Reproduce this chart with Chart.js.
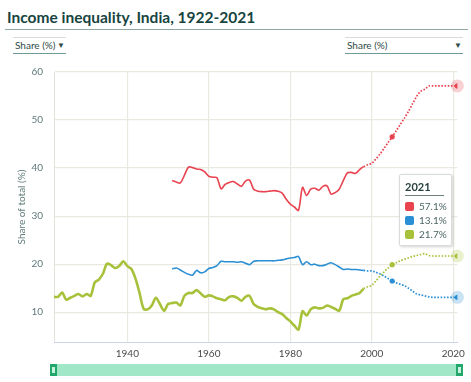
<!DOCTYPE html>
<html>
<head>
<meta charset="utf-8">
<script src="https://cdn.jsdelivr.net/npm/chart.js@4.4.1/dist/chart.umd.min.js"></script>
<style>
  body { margin: 0; width: 471px; height: 382px; background: #fff; font-family: Lato, "Open Sans", sans-serif; position: relative; overflow: hidden; }
  .title { position: absolute; left: 7px; top: 8px; font-size: 15.5px; font-weight: bold; color: #17443f; }
  .title-rule { position: absolute; left: 5px; top: 29px; width: 463px; height: 1px; background: #8fa8a5; }
  .dropdown { position: absolute; top: 37px; height: 15px; border-top: 1px solid #d6dcdb; border-bottom: 1px solid #6f9b97; font-size: 10px; color: #2f4a48; line-height: 15px; }
  .dropdown .caret { position: absolute; right: 1px; top: 0; font-size: 8px; }
  #wrap { position: absolute; left: 0; top: 55px; width: 471px; height: 305px; }
  .slider { position: absolute; left: 50px; top: 364px; width: 413px; height: 12px; background: #9fe7c6; }
  .handle { position: absolute; top: 0; width: 7px; height: 12px; background: #22a86c; }
  .handle i { position: absolute; left: 2px; top: 3px; width: 3px; height: 6px; background: #c9f2de; }
  .box { position: absolute; left: 399px; top: 174px; width: 51px; height: 70px; background: #fff; border: 1px solid #d8dcdc; box-shadow: 1px 1px 3px rgba(0,0,0,0.18); border-radius: 2px; }
  .box .yr { position: absolute; left: 5px; top: 5px; width: 39px; font-size: 11px; font-weight: bold; color: #26403e; border-bottom: 1px solid #6d7f7e; padding-bottom: 2px; line-height: 13px; }
  .box .row { position: absolute; left: 5px; font-size: 10px; color: #4d6766; line-height: 10px; }
  .box .sw { display: inline-block; width: 9px; height: 9px; border-radius: 2px; vertical-align: -1px; margin-right: 5px; }
</style>
</head>
<body>
<div class="title">Income inequality, India, 1922-2021</div>
<div class="title-rule"></div>
<div class="dropdown" style="left:13px;width:51px;padding-left:2px;">Share (%)<span class="caret">&#9660;</span></div>
<div class="dropdown" style="left:345px;width:116px;padding-left:2px;">Share (%)<span class="caret">&#9660;</span></div>
<div id="wrap"><canvas id="chart"></canvas></div>
<div class="slider">
  <div class="handle" style="left:0"><i></i></div>
  <div class="handle" style="right:0"><i></i></div>
</div>
<div class="box" id="box"></div>

<script>
// Years on the x axis
const YEARS = [
  1922, 1923, 1924, 1925, 1926, 1927, 1928, 1929, 1930, 1931,
  1932, 1933, 1934, 1935, 1936, 1937, 1938, 1939, 1940, 1941,
  1942, 1943, 1944, 1945, 1946, 1947, 1948, 1949, 1950, 1951,
  1952, 1953, 1954, 1955, 1956, 1957, 1958, 1959, 1960, 1961,
  1962, 1963, 1964, 1965, 1966, 1967, 1968, 1969, 1970, 1971,
  1972, 1973, 1974, 1975, 1976, 1977, 1978, 1979, 1980, 1981,
  1982, 1983, 1984, 1985, 1986, 1987, 1988, 1989, 1990, 1991,
  1992, 1993, 1994, 1995, 1996, 1997, 1998, 1999, 2000, 2001,
  2002, 2003, 2004, 2005, 2006, 2007, 2008, 2009, 2010, 2011,
  2012, 2013, 2014, 2015, 2016, 2017, 2018, 2019, 2020, 2021
];

// Top 10% share (red), starts 1951
const TOP10 = [
  null, null, null, null, null, null, null, null, null, null,
  null, null, null, null, null, null, null, null, null, null,
  null, null, null, null, null, null, null, null, null, 37.4,
  37.1, 36.9, 38.5, 40.2, 40.1, 39.8, 39.7, 39.2, 38.3, 38.1,
  38.0, 35.7, 36.6, 37.0, 37.2, 36.7, 36.2, 37.3, 37.5, 35.6,
  35.2, 35.1, 35.1, 35.2, 35.3, 35.2, 34.8, 33.5, 32.5, 31.9,
  31.2, 36.0, 34.3, 35.6, 35.8, 35.4, 36.2, 36.3, 34.6, 34.9,
  35.6, 37.4, 39.0, 39.1, 38.9, 39.7, 40.3, 40.7, 41.0, 41.9,
  42.9, 44.1, 45.3, 46.5, 47.8, 49.1, 50.4, 51.8, 53.4, 54.9,
  56.0, 56.4, 57.1, 57.1, 57.1, 57.1, 57.1, 57.1, 57.1, 57.1
];

// Bottom 50% share (blue), starts 1951
const BOTTOM50 = [
  null, null, null, null, null, null, null, null, null, null,
  null, null, null, null, null, null, null, null, null, null,
  null, null, null, null, null, null, null, null, null, 19.0,
  19.2, 18.8, 18.3, 17.9, 17.7, 18.7, 18.2, 18.4, 19.1, 19.3,
  19.7, 20.6, 20.5, 20.5, 20.5, 20.4, 20.5, 20.2, 19.9, 20.6,
  20.7, 20.7, 20.7, 20.7, 20.7, 20.8, 20.9, 21.1, 21.3, 21.4,
  21.6, 19.9, 20.5, 19.9, 20.0, 19.7, 19.7, 20.0, 20.3, 19.9,
  19.4, 18.9, 19.0, 18.9, 18.9, 18.8, 18.7, 18.6, 18.6, 18.3,
  18.0, 17.5, 17.0, 16.5, 16.1, 15.8, 15.5, 15.0, 14.4, 13.8,
  13.6, 13.4, 13.2, 13.1, 13.1, 13.1, 13.1, 13.1, 13.1, 13.1
];

// Top 1% share (green), from 1922
const TOP1 = [
  13.2, 13.2, 14.1, 12.6, 13.0, 13.4, 13.8, 13.3, 13.8, 13.4,
  16.2, 16.8, 18.0, 20.1, 19.8, 19.2, 19.6, 20.6, 19.6, 19.0,
  17.0, 14.0, 10.7, 10.6, 11.4, 13.0, 11.7, 10.3, 11.7, 11.9,
  12.0, 11.4, 13.4, 14.0, 14.0, 14.6, 13.9, 13.2, 13.5, 13.3,
  12.9, 12.7, 12.5, 13.2, 13.3, 13.0, 12.4, 13.2, 13.4, 11.7,
  11.1, 10.8, 10.6, 10.8, 10.6, 10.0, 9.6, 8.8, 8.1, 7.2,
  6.4, 10.2, 9.3, 10.6, 11.0, 10.8, 10.9, 11.4, 11.1, 10.7,
  10.3, 12.7, 12.9, 13.4, 13.7, 14.0, 14.9, 15.3, 15.6, 16.5,
  17.5, 18.4, 19.2, 19.9, 20.3, 20.7, 21.0, 21.3, 21.6, 21.8,
  22.0, 22.2, 21.8, 21.7, 21.7, 21.7, 21.7, 21.7, 21.7, 21.7
];

const Y_TICKS = [10, 20, 30, 40, 50, 60];
const X_TICKS = [1940, 1960, 1980, 2000, 2020];
const ESTIMATE_FROM = 1998;   // dotted after this year
const MARKED_YEARS = [2005, 2021];

const RED = "#e8434f", BLUE = "#2b8fd5", GREEN = "#a7c23a";

function series(values, color, width, order) {
  return {
    data: values,
    borderColor: color,
    backgroundColor: color,
    borderWidth: width,
    tension: 0.3,
    spanGaps: false,
    order,
    pointRadius: (ctx) => MARKED_YEARS.includes(YEARS[ctx.dataIndex]) ? 2.6 : 0,
    pointBorderWidth: 0,
    segment: {
      borderDash: (ctx) => ctx.p0.parsed.x >= ESTIMATE_FROM ? [1.6, 1.6] : undefined,
      borderWidth: (ctx) => ctx.p0.parsed.x >= ESTIMATE_FROM ? 1.7 : width,
    },
  };
}

function halo(values, color) {
  const last = values[values.length - 1];
  return {
    data: [{ x: YEARS[YEARS.length - 1], y: last }],
    showLine: false,
    pointRadius: 6.5,
    pointBorderWidth: 0,
    backgroundColor: color + "40",
    clip: false,
    order: 10,
  };
}

new Chart(document.getElementById("chart"), {
  type: "line",
  data: {
    labels: YEARS,
    datasets: [
      series(TOP10, RED, 1.6, 1),
      series(BOTTOM50, BLUE, 1.6, 2),
      series(TOP1, GREEN, 2.6, 3),
      halo(TOP10, RED),
      halo(BOTTOM50, BLUE),
      halo(TOP1, GREEN),
    ],
  },
  options: {
    responsive: true,
    maintainAspectRatio: false,
    animation: false,
    events: [],
    layout: { padding: { top: 12, right: 9, left: 0, bottom: 0 } },
    plugins: { legend: { display: false }, tooltip: { enabled: false } },
    scales: {
      x: {
        type: "linear",
        min: 1922,
        max: 2021,
        afterFit: (s) => { s.height = 18; },
        afterBuildTicks: (s) => { s.ticks = X_TICKS.map(v => ({ value: v })); },
        grid: { color: "#e9e8e1", lineWidth: 1.2, drawTicks: false },
        border: { color: "#c9d7e8" },
        ticks: { padding: 6, color: "#4a4a4a", font: { family: "Lato", size: 10 }, maxRotation: 0, autoSkip: false, callback: (v) => String(v) },
      },
      y: {
        min: 3.8,
        max: 60,
        afterFit: (s) => { s.width = 54; },
        afterBuildTicks: (s) => { s.ticks = Y_TICKS.map(v => ({ value: v })); },
        grid: { color: "#e9e8e1", lineWidth: 1.2, drawTicks: false },
        border: { color: "#e2e2dc" },
        ticks: { padding: 11, color: "#5f7b79", font: { family: "Lato", size: 10 } },
        title: { display: true, text: "Share of total (%)", color: "#5f7b79", font: { family: "Lato", size: 10 }, padding: { top: 16, bottom: 0 } },
      },
    },
  },
});

// Value box for the last year
const box = document.getElementById("box");
const rows = [[TOP10, RED], [BOTTOM50, BLUE], [TOP1, GREEN]];
box.innerHTML = `<div class="yr">${YEARS[YEARS.length - 1]}</div>` + rows.map(([vals, c], i) =>
  `<div class="row" style="top:${26 + i * 14}px"><span class="sw" style="background:${c}"></span>${vals[vals.length - 1].toFixed(1)}%</div>`
).join("");
</script>
</body>
</html>
